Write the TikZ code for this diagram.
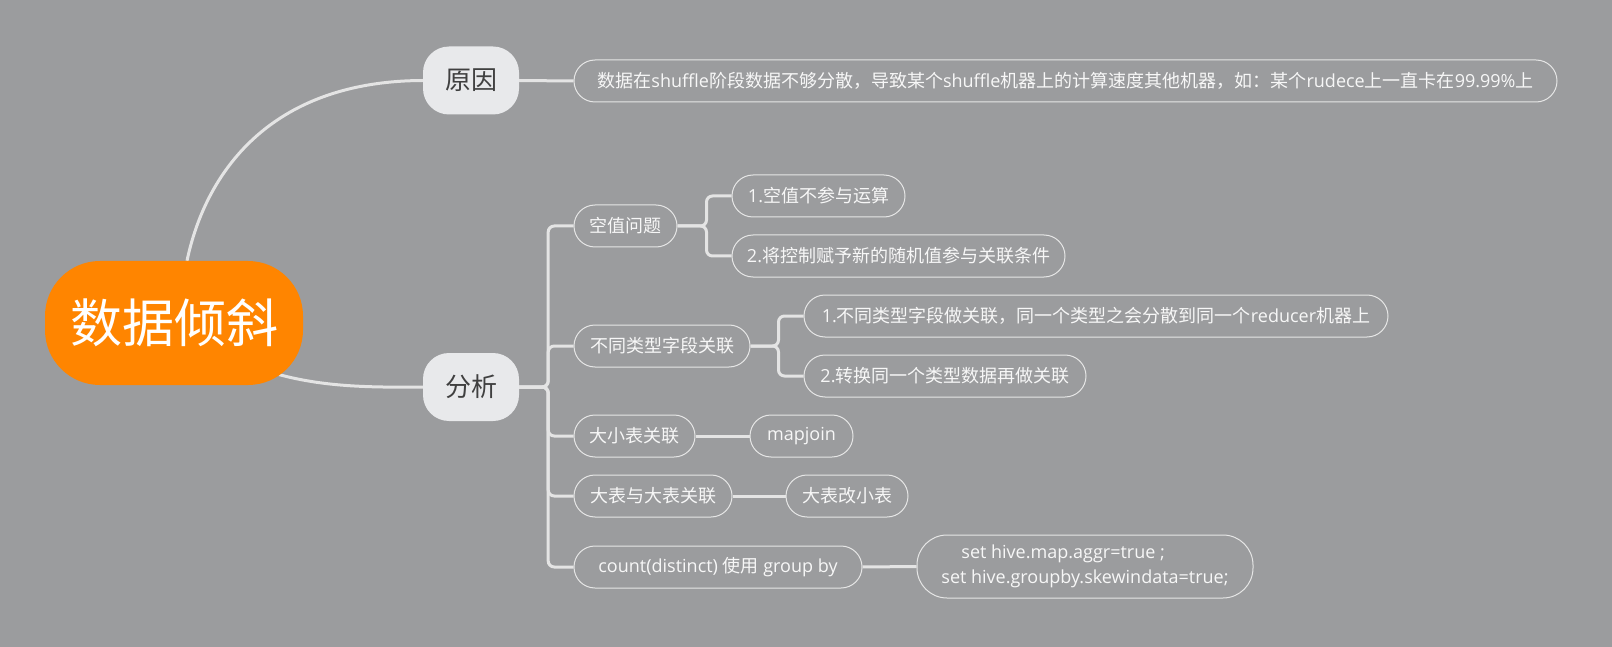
\documentclass[tikz,border=0pt]{standalone}
\usepackage{fontspec}
\setmainfont{Open Sans}
\newfontfamily\cjkfont{Noto Sans CJK SC}
\usepackage{tikz}
\usetikzlibrary{backgrounds}
\XeTeXinterchartokenstate=1
\newXeTeXintercharclass\cjkclass
\newcount\cjkcode
\newcommand\cjkrange[2]{\cjkcode=#1
	\loop\XeTeXcharclass\cjkcode=\cjkclass
	\ifnum\cjkcode<#2 \advance\cjkcode by 1 \repeat}
\cjkrange{"3000}{"303F}
\cjkrange{"4E00}{"9FFF}
\cjkrange{"FF00}{"FFEF}
\XeTeXinterchartoks 0 \cjkclass={\begingroup\cjkfont}
\XeTeXinterchartoks 4095 \cjkclass={\begingroup\cjkfont}
\XeTeXinterchartoks \cjkclass 0={\endgroup}
\XeTeXinterchartoks \cjkclass 4095={\endgroup}
\definecolor{canvas}{HTML}{9B9C9E}
\definecolor{rootorange}{HTML}{FF8500}
\definecolor{topicgray}{HTML}{E8E9EB}
\definecolor{topictext}{HTML}{404040}
\definecolor{leafline}{HTML}{E6E6E6}
\definecolor{leaftext}{HTML}{F7F7F7}
\definecolor{linkgray}{HTML}{E4E4E4}

\begin{document}
\begin{tikzpicture}[x=1pt,y=-1pt,
		root/.style={fill=rootorange,text=white,rounded corners=55pt,minimum width=258pt,minimum height=124pt,font=\fontsize{52}{60}\selectfont},
		topic/.style={fill=topicgray,text=topictext,rounded corners=26pt,minimum width=96pt,minimum height=68pt,font=\fontsize{26}{30}\selectfont},
		leaf/.style={draw=leafline,line width=1pt,text=leaftext,rounded corners=21pt,minimum height=42pt,inner xsep=14pt,font=\fontsize{18}{22}\selectfont},
		link/.style={draw=linkgray,line width=3pt},
		bus/.style={link,rounded corners=6pt}]
		\useasboundingbox (0,0) rectangle (1612,647);
		\node[root] (ctr) at (174,323) {数据倾斜};
		\node[topic] (yy) at (471,80.5) {原因};
		\node[topic] (fx) at (471,387) {分析};
		\node[leaf,minimum width=983pt] (why) at (1065.5,81) {数据在shuffle阶段数据不够分散，导致某个shuffle机器上的计算速度其他机器，如：某个rudece上一直卡在99.99\%上};
		\node[leaf,minimum width=103pt] (kz) at (625.5,226) {空值问题};
		\node[leaf,minimum width=173pt] (kz1) at (818.5,196) {1.空值不参与运算};
		\node[leaf,minimum width=333pt] (kz2) at (898.5,256) {2.将控制赋予新的随机值参与关联条件};
		\node[leaf,minimum width=176pt] (bt) at (662,346) {不同类型字段关联};
		\node[leaf,minimum width=584pt] (bt1) at (1096,316) {1.不同类型字段做关联，同一个类型之会分散到同一个reducer机器上};
		\node[leaf,minimum width=282pt] (bt2) at (945,376) {2.转换同一个类型数据再做关联};
		\node[leaf,minimum width=121pt] (dx) at (634.5,436) {大小表关联};
		\node[leaf,minimum width=103pt] (mj) at (801.5,436) {mapjoin};
		\node[leaf,minimum width=158pt] (dd) at (653,496) {大表与大表关联};
		\node[leaf,minimum width=122pt] (dg) at (847,496) {大表改小表};
		\node[leaf,minimum width=288pt] (ct) at (718,567) {count(distinct) 使用 group by};
		\node[leaf,minimum width=336pt,minimum height=63pt,rounded corners=30pt,align=left,font=\fontsize{18}{25}\selectfont] (sh) at (1085,566.5)
			{\hspace*{20pt}set hive.map.aggr=true ;\\set hive.groupby.skewindata=true;};
		\begin{scope}[on background layer]
			\fill[canvas] (0,0) rectangle (1612,647);
			\draw[link] ([xshift=13pt]ctr.north) .. controls (205,175) and (268,81) .. (yy.west);
			\draw[link] (ctr.center) .. controls (260,385) and (330,388) .. (fx.west);
			\draw[link] (yy.east) -- (why.west);
			\foreach \kid in {kz,bt,dx,dd,ct}
				\draw[bus] (fx.east) -- ++(29,0) |- (\kid.west);
			\foreach \kid in {kz1,kz2}
				\draw[bus] (kz.east) -- ++(29,0) |- (\kid.west);
			\foreach \kid in {bt1,bt2}
				\draw[bus] (bt.east) -- ++(28,0) |- (\kid.west);
			\draw[link] (dx.east) -- (mj.west);
			\draw[link] (dd.east) -- (dg.west);
			\draw[link] (ct.east) -- (sh.west);
		\end{scope}
	\end{tikzpicture}
\end{document}
